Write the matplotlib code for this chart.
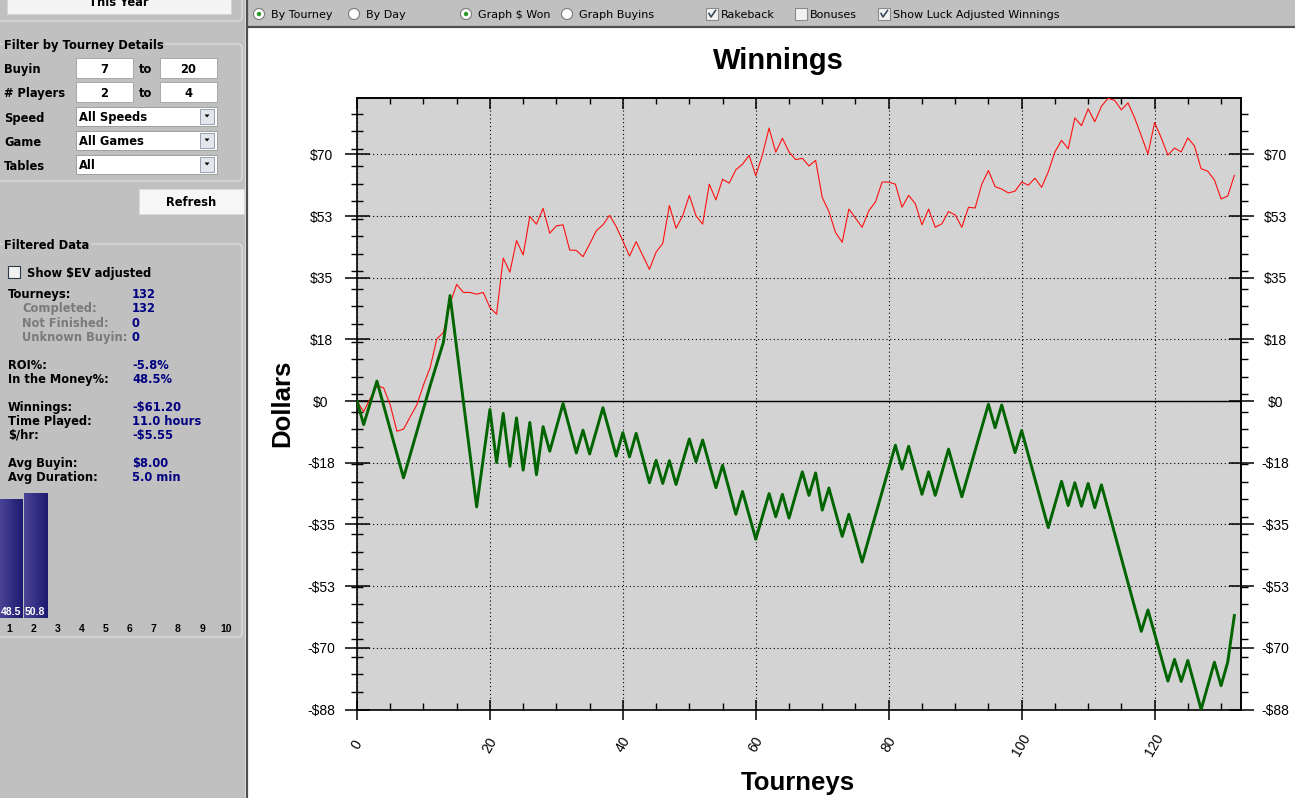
import numpy as np
import matplotlib
matplotlib.use('Agg')
import matplotlib.pyplot as plt
from matplotlib.patches import Rectangle, Circle, FancyBboxPatch, Polygon
from matplotlib.ticker import FixedLocator, MultipleLocator
from matplotlib.colors import LinearSegmentedColormap

plt.rcParams['font.family'] = ['Liberation Sans', 'DejaVu Sans']

# Cumulative $ won after each tourney
winnings = [0, -6.7, -0.5, 5.7, -1.2, -8.1, -15.0, -21.9, -15.3, -8.7,
            -2.1, 4.4, 10.6, 16.8, 30.1, 15.0, -0.1, -15.1, -30.2, -16.3,
            -2.4, -17.5, -3.5, -18.6, -4.8, -19.7, -6.1, -21.0, -7.3, -14.3,
            -7.5, -0.7, -7.7, -14.8, -8.3, -15.1, -8.5, -1.9, -8.8, -15.7,
            -9.0, -15.9, -9.2, -16.3, -23.3, -16.9, -23.5, -17.0, -23.8, -17.3,
            -10.8, -17.3, -11.1, -17.9, -24.7, -18.3, -25.3, -32.3, -25.8, -32.6,
            -39.4, -32.9, -26.4, -33.0, -26.6, -33.4, -26.7, -20.2, -26.9, -20.5,
            -31.1, -24.8, -31.7, -38.6, -32.3, -39.1, -45.9, -39.2, -32.6, -25.9,
            -19.3, -12.6, -19.4, -12.9, -19.7, -26.6, -20.2, -26.9, -20.3, -13.7,
            -20.5, -27.3, -20.7, -14.1, -7.5, -0.9, -7.6, -1.1, -7.9, -14.7,
            -8.4, -15.3, -22.2, -29.2, -36.1, -29.5, -22.9, -29.8, -23.3, -30.0,
            -23.5, -30.4, -23.9, -30.9, -37.9, -44.8, -51.8, -58.8, -65.7, -59.6,
            -66.4, -73.1, -79.9, -73.7, -80.0, -74.0, -81.0, -88.0, -81.2, -74.5,
            -81.2, -74.5, -61.2]

# Luck adjusted winnings
luck_adjusted = [0, -3.0, 0.8, 4.4, 3.8, -1.1, -8.6, -8.0, -4.5, -1.1,
                 4.6, 9.5, 17.7, 19.6, 27.9, 33.3, 31.0, 31.0, 30.5, 31.0,
                 26.7, 24.8, 40.8, 36.8, 45.8, 41.7, 52.7, 50.5, 55.0, 47.9,
                 50.0, 50.3, 43.1, 43.0, 41.2, 44.8, 48.6, 50.3, 53.0, 49.8,
                 45.7, 41.4, 45.5, 41.5, 37.6, 42.5, 45.0, 55.8, 49.3, 52.9,
                 58.7, 52.9, 50.5, 61.9, 57.4, 63.3, 62.2, 66.0, 67.6, 70.1,
                 64.3, 70.3, 77.9, 71.0, 75.0, 71.1, 68.9, 69.3, 67.1, 68.7,
                 58.1, 54.1, 48.1, 45.3, 54.8, 52.2, 49.6, 54.3, 56.8, 62.5,
                 62.5, 61.9, 55.3, 58.7, 56.3, 50.3, 54.8, 49.6, 50.6, 54.1,
                 53.1, 49.6, 55.3, 55.1, 61.9, 65.8, 61.2, 60.5, 59.4, 59.9,
                 62.5, 61.6, 63.6, 61.0, 65.4, 71.1, 74.4, 72.0, 80.8, 78.6,
                 83.4, 79.7, 84.1, 86.4, 85.8, 83.1, 85.1, 80.8, 75.7, 70.5,
                 79.5, 75.1, 70.2, 72.2, 71.1, 75.1, 72.8, 66.3, 65.6, 63.1,
                 57.7, 58.5, 64.4]

tourney_ticks = [0, 20, 40, 60, 80, 100, 120]
dollar_ticks = [-88, -70.4, -52.8, -35.2, -17.6, 0, 17.6, 35.2, 52.8, 70.4]
dollar_minor = [-88, -83, -78, -73, -68, -63, -58, -53, -48, -43, -38, -33, -28,
                -23, -18, -13, -8, -3, 2, 7, 12, 17, 22, 27, 32, 37, 42, 47,
                52, 57, 62, 67, 72, 77, 82]
dollar_labels = [('-' if v < 0 else '') + '$%d' % round(abs(v)) for v in dollar_ticks]

# finishing place histogram in the sidebar
places = [1, 2, 3, 4, 5, 6, 7, 8, 9, 10]
place_pct = [48.5, 50.8, 0, 0, 0, 0, 0, 0, 0, 0]

stats = [('Tourneys:', '132', 0, 293),
         ('Completed:', '132', 1, 307),
         ('Not Finished:', '0', 1, 322),
         ('Unknown Buyin:', '0', 1, 336),
         ('ROI%:', '-5.8%', 0, 364),
         ('In the Money%:', '48.5%', 0, 378),
         ('Winnings:', '-$61.20', 0, 406),
         ('Time Played:', '11.0 hours', 0, 420),
         ('$/hr:', '-$5.55', 0, 434),
         ('Avg Buyin:', '$8.00', 0, 462),
         ('Avg Duration:', '5.0 min', 0, 476)]

W, H = 1295, 798
fig = plt.figure(figsize=(W / 100, H / 100), dpi=100)
ui = fig.add_axes([0, 0, 1, 1])
ui.set_xlim(0, W)
ui.set_ylim(H, 0)
ui.axis('off')

GRAY = '#c0c0c0'
ui.add_patch(Rectangle((0, 0), 247, H, facecolor=GRAY, edgecolor='none'))
ui.add_patch(Rectangle((247, 0), W - 247, 27, facecolor=GRAY, edgecolor='none'))
ui.add_patch(Rectangle((248, 28), W - 248, H - 28, facecolor='white', edgecolor='none'))
ui.plot([244.5, 244.5], [0, H], color='#e8e8e8', lw=0.8)
ui.plot([246.5, 246.5], [0, H], color='#505050', lw=1.6)
ui.plot([247, W], [27, 27], color='#505050', lw=1.6)

side = dict(family='DejaVu Sans', fontweight='bold', fontsize=8.3, va='center_baseline')
tool = dict(family='DejaVu Sans', fontsize=8, va='center_baseline')

# --- sidebar ---
ui.add_patch(Rectangle((7, -3), 224, 17, facecolor='#f4f4f4', edgecolor='#d4d4d4', lw=0.7))
ui.text(119, 6, 'This Year', ha='center', va='baseline', family='DejaVu Sans',
        fontweight='bold', fontsize=8.3)
ui.add_patch(FancyBboxPatch((-6, -20), 248, 41, boxstyle='round,pad=0,rounding_size=4',
                            facecolor='none', edgecolor='#e2e2e2', lw=0.8))
ui.add_patch(FancyBboxPatch((-6, 44), 248, 137, boxstyle='round,pad=0,rounding_size=4',
                            facecolor='none', edgecolor='#e2e2e2', lw=0.8))
ui.text(4, 44, 'Filter by Tourney Details', bbox=dict(facecolor=GRAY, edgecolor='none', pad=1), **side)

for label, lo, hi, y in [('Buyin', '7', '20', 68), ('# Players', '2', '4', 92)]:
    ui.text(4, y, label, **side)
    ui.add_patch(Rectangle((75.5, y - 10), 57, 20, facecolor='white', edgecolor='#a8a8a8', lw=0.7))
    ui.add_patch(Rectangle((159.5, y - 10), 57, 20, facecolor='white', edgecolor='#a8a8a8', lw=0.7))
    ui.text(104, y, lo, ha='center', **side)
    ui.text(146, y, 'to', ha='center', **side)
    ui.text(188, y, hi, ha='center', **side)

for label, value, y in [('Speed', 'All Speeds', 116), ('Game', 'All Games', 140), ('Tables', 'All', 164)]:
    ui.text(4, y + 1, label, **side)
    ui.add_patch(Rectangle((75.5, y - 9.5), 141, 19.5, facecolor='white', edgecolor='#a0a0a0', lw=0.7))
    ui.add_patch(Rectangle((200, y - 7), 14, 14.5, facecolor='#e4e6ec', edgecolor='#98a0b0', lw=0.7))
    ui.add_patch(Polygon([[204.5, y - 1.5], [209.5, y - 1.5], [207, y + 1.5]], facecolor='black', edgecolor='none'))
    ui.text(79, y, value, **side)

ui.add_patch(Rectangle((139, 189), 105, 24.5, facecolor='#f6f6f6', edgecolor='#dadada', lw=0.7))
ui.text(191.5, 201, 'Refresh', ha='center', **side)

ui.add_patch(FancyBboxPatch((-6, 244), 248, 393, boxstyle='round,pad=0,rounding_size=4',
                            facecolor='none', edgecolor='#e2e2e2', lw=0.8))
ui.text(4, 244, 'Filtered Data', bbox=dict(facecolor=GRAY, edgecolor='none', pad=1), **side)
ui.add_patch(Rectangle((8, 266), 11.5, 11.5, facecolor='#f2f2f2', edgecolor='#2c3a4a', lw=0.8))
ui.text(27, 271.5, 'Show $EV adjusted', **side)

for label, value, indent, y in stats:
    ui.text(8 + 14.5 * indent, y, label, color='#7a7a7a' if indent else 'black', **side)
    ui.text(132, y, value, color='#000080', **side)

# --- toolbar ---
for cx, text, on in [(259, 'By Tourney', True), (354, 'By Day', False),
                     (466, 'Graph $ Won', True), (567, 'Graph Buyins', False)]:
    ui.add_patch(Circle((cx, 14), 5.5, facecolor='white', edgecolor='#7a7a7a', lw=0.8))
    if on:
        ui.add_patch(Circle((cx, 14), 2.2, facecolor='#2e9a2e', edgecolor='none'))
    ui.text(cx + 12, 14, text, **tool)

for bx, text, on in [(706, 'Rakeback', True), (795, 'Bonuses', False),
                     (878, 'Show Luck Adjusted Winnings', True)]:
    ui.add_patch(Rectangle((bx, 8), 12, 12, facecolor='#f2f2f2', edgecolor='#8a8a8a', lw=0.8))
    if on:
        ui.plot([bx + 3, bx + 5, bx + 9.5], [13.5, 17, 10.5], color='#3a4a5a', lw=1.2)
    ui.text(bx + 15, 14, text, **tool)

# --- chart labels ---
ui.text(778, 61, 'Winnings', ha='center', va='center', fontsize=21, fontweight='bold')
ui.text(798, 783, 'Tourneys', ha='center', va='center', fontsize=18.5, fontweight='bold')
ui.text(282, 403, 'Dollars', ha='center', va='center', rotation=90, fontsize=18.5, fontweight='bold')

# --- main chart ---
left, right, top, bottom = 357, 1241, 98.3, 709.5
ax = fig.add_axes([left / W, 1 - bottom / H, (right - left) / W, (bottom - top) / H])
ax.set_facecolor('#d3d3d3')
x = np.arange(len(winnings))
ax.plot(x, luck_adjusted, color='#ff1010', lw=0.8, zorder=3)
ax.plot(x, winnings, color='#006400', lw=2.1, zorder=4)
ax.axhline(0, color='black', lw=1, zorder=2)
ax.set_xlim(0, 133)
ax.set_ylim(min(winnings), max(luck_adjusted))

ax.set_xticks(tourney_ticks)
ax.xaxis.set_minor_locator(MultipleLocator(5))
ax.set_yticks(dollar_ticks, dollar_labels)
ax.yaxis.set_minor_locator(FixedLocator(dollar_minor))
ax.grid(True, which='major', color='black', linestyle=(0, (1, 2.5)), lw=0.8)
ax.tick_params(axis='x', which='major', direction='inout', length=14, width=1.1, pad=18.4, labelsize=10)
ax.tick_params(axis='x', which='minor', direction='in', length=5, width=1)
ax.tick_params(axis='y', which='major', direction='inout', length=18, width=1.1, pad=16.9, labelsize=10)
ax.tick_params(axis='y', which='minor', direction='inout', length=9, width=1)
plt.setp(ax.get_xticklabels(), rotation=60, ha='center', va='center')
plt.setp(ax.get_yticklabels(), ha='center')
for s in ax.spines.values():
    s.set_linewidth(1.2)

secx = ax.secondary_xaxis('top')
secx.set_xticks(tourney_ticks)
secx.xaxis.set_minor_locator(MultipleLocator(5))
secx.tick_params(which='major', direction='in', length=8, width=1.1, labeltop=False)
secx.tick_params(which='minor', direction='in', length=4, width=1)
secx.spines['top'].set_linewidth(1.2)

secy = ax.secondary_yaxis('right')
secy.set_yticks(dollar_ticks, dollar_labels)
secy.yaxis.set_minor_locator(FixedLocator(dollar_minor))
secy.tick_params(which='major', direction='inout', length=18, width=1.1, pad=15.8, labelsize=10)
secy.tick_params(which='minor', direction='out', length=5, width=1)
plt.setp(secy.get_yticklabels(), ha='center')
secy.spines['right'].set_linewidth(1.2)

# --- finishing place bars in the sidebar ---
bx = fig.add_axes([0, 1 - 618 / H, 245 / W, 138 / H])
bx.patch.set_alpha(0)
for s in bx.spines.values():
    s.set_visible(False)
bx.set_yticks([])
bx.set_xticks(places, [str(p) for p in places])
bx.tick_params(axis='x', length=0, pad=4.3)
for lab in bx.get_xticklabels():
    lab.set_fontweight('bold')
    lab.set_fontsize(7.5)
grad = LinearSegmentedColormap.from_list('bar', ['#4a4496', '#1c1a70'])
bars = bx.bar(np.array(places) - 0.4, place_pct, width=0.96, align='edge', color='#2c2980')
for rect, v in zip(bars, place_pct):
    if v <= 0:
        continue
    x0, w, h = rect.get_x(), rect.get_width(), rect.get_height()
    bx.imshow(np.linspace(0, 1, 32).reshape(1, -1), cmap=grad, aspect='auto',
              extent=(x0, x0 + w, 0, h), zorder=2)
    bx.text(x0 + w / 2, 0.35, '%.1f' % v, ha='center', va='bottom', color='white',
            fontweight='bold', fontsize=7.5, zorder=3)
bx.set_xlim(0.614, 10.78)
bx.set_ylim(0, 56.3)

fig.savefig('out.png', dpi=100)
